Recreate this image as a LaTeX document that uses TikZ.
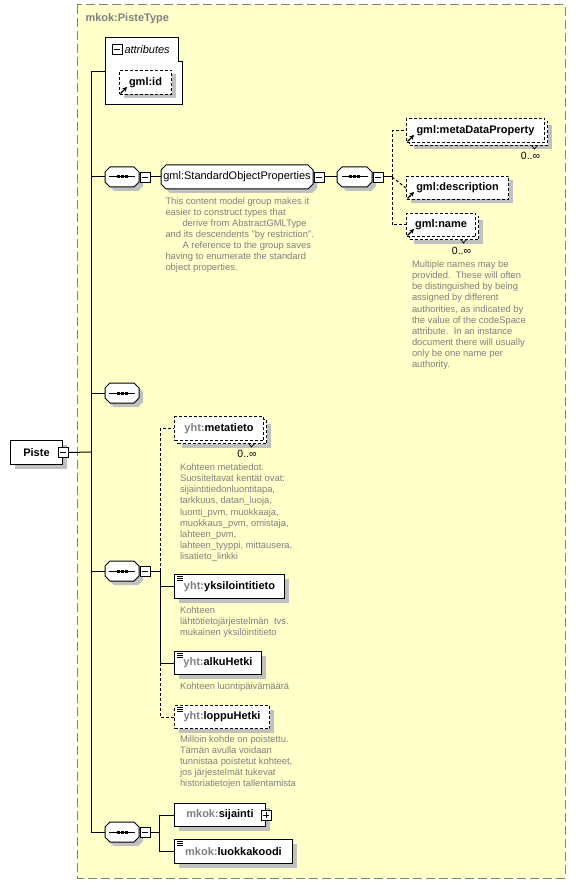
\documentclass[tikz,border=0pt]{standalone}
\usepackage{fontspec}
\setmainfont{Liberation Sans}
\usetikzlibrary{shadows,calc,arrows.meta}
\definecolor{bgy}{RGB}{255,255,202}
\definecolor{framec}{RGB}{128,128,128}
\definecolor{shd}{RGB}{192,192,192}
\definecolor{descc}{RGB}{128,128,128}
\definecolor{pfx}{RGB}{128,128,128}
\newcommand{\px}[1]{\textcolor{pfx}{#1}}
% octagon path: centre x, centre y, half width, half height, cut, offset
\newcommand{\octxy}[6]{(#1-#3+#5+#6,#2-#4+#6) -- (#1+#3-#5+#6,#2-#4+#6) -- (#1+#3+#6,#2-#4+#5+#6) -- (#1+#3+#6,#2+#4-#5+#6) -- (#1+#3-#5+#6,#2+#4+#6) -- (#1-#3+#5+#6,#2+#4+#6) -- (#1-#3+#6,#2+#4-#5+#6) -- (#1-#3+#6,#2-#4+#5+#6) -- cycle}
\begin{document}
\begin{tikzpicture}[x=1pt,y=-1pt,line width=1pt,
  lbl/.style={font=\fontsize{11}{13}\selectfont},
  shadowed/.style={general shadow={fill=shd,shadow xshift=4pt,shadow yshift=-4pt}},
  box/.style={draw,fill=white,rectangle,inner sep=0pt,anchor=north west,lbl},
  elem/.style={box,shadowed},
  opt/.style={dash pattern=on 3pt off 2pt},
  seqbox/.style={rectangle,inner sep=0pt,minimum width=34pt,minimum height=20pt},
  grpbox/.style={rectangle,inner sep=0pt,lbl},
  mbox/.style={draw,fill=white,minimum size=10pt,inner sep=0pt,line width=0.8pt,
    path picture={\draw[line width=0.8pt] ([xshift=2pt]path picture bounding box.west) -- ([xshift=-2pt]path picture bounding box.east);}},
  pbox/.style={mbox,
    path picture={\draw[line width=0.8pt] ([xshift=2pt]path picture bounding box.west) -- ([xshift=-2pt]path picture bounding box.east);
                  \draw[line width=0.8pt] ([yshift=-2pt]path picture bounding box.north) -- ([yshift=2pt]path picture bounding box.south);}},
  dtext/.style={anchor=north west,inner sep=0pt,align=left,text=descc,font=\fontsize{9.4}{11.05}\selectfont},
  occ/.style={inner sep=0pt,font=\fontsize{10.5}{12}\selectfont}
]
\useasboundingbox (0,0) rectangle (576,885);
\fill[white] (0,0) rectangle (576,885);
\draw[fill=bgy,draw=framec,dash pattern=on 9pt off 4pt] (77,5) rectangle (565,878);
\node[anchor=west,inner sep=0pt,text=pfx,font=\fontsize{11}{13}\selectfont\bfseries] (title) at (85,19) {mkok:PisteType};

% octagon outlines (sequences and group), drawn before their nodes
\foreach \cx/\cy/\hw in {122/177/17,122/393/17,122/571/17,122/832/17,354.5/177/17.5}{
  \fill[shd] \octxy{\cx}{\cy}{\hw}{10}{5}{4};
  \draw[fill=white] \octxy{\cx}{\cy}{\hw}{10}{5}{0};
}
\fill[shd] \octxy{237}{177}{76}{12}{5}{4};
\draw[fill=white] \octxy{237}{177}{76}{12}{5}{0};

% attributes box
\node[draw=none,minimum width=77pt,minimum height=67pt,inner sep=0pt,anchor=north west] (attrs) at (105,38) {};
\draw[fill=white] (105,38) -- (178,38) -- (178,62) -- (182,62) -- (182,105) -- (105,105) -- cycle;
\node[mbox] (mattr) at (117,49.5) {};
\node[anchor=west,inner sep=0pt,font=\fontsize{11}{13}\selectfont\itshape] (attrl) at (124,49.5) {attributes};
\node[elem,opt,minimum width=52pt,minimum height=24pt] (gmlid) at (119,70) {\textbf{gml:id}};

% root
\node[elem,minimum width=52pt,minimum height=24pt] (piste) at (10,440) {\textbf{Piste}\hspace{5pt}};
\node[mbox] (mpiste) at (piste.east) {};
\coordinate (bus) at (91,452);

% sequences
\node[seqbox] (seq1) at (122,177) {};
\node[seqbox] (seq2) at (122,393) {};
\node[seqbox] (seq3) at (122,571) {};
\node[seqbox] (seq4) at (122,832) {};
\node[mbox,anchor=west] (m1) at (seq1.east) {};
\node[mbox,anchor=west] (m3) at (seq3.east) {};
\node[mbox,anchor=west] (m4) at (seq4.east) {};

% group
\node[grpbox,minimum width=152pt,minimum height=24pt] (sop) at (237,177) {gml:StandardObjectProperties};
\node[mbox,anchor=west] (msop) at (sop.east) {};
\node[seqbox,minimum width=35pt] (seqR) at (354.5,177) {};
\node[mbox,anchor=west] (mR) at (seqR.east) {};
\coordinate (jR) at (392,177);

% right side elements
\node[elem,opt,minimum width=138pt,minimum height=24pt] (mdpB) at (409,121) {};
\node[box,opt,minimum width=138pt,minimum height=24pt] (mdp) at (406,118) {\textbf{gml:metaDataProperty}};
\node[elem,opt,minimum width=102pt,minimum height=23pt] (gdesc) at (406,176) {\textbf{gml:description}};
\node[elem,opt,minimum width=69pt,minimum height=23pt] (gnameB) at (409,216) {};
\node[box,opt,minimum width=69pt,minimum height=23pt] (gname) at (406,213) {\textbf{gml:name}};
\node[occ] (occmdp) at (530.5,156) {0..∞};
\node[occ] (occname) at (461.5,250.5) {0..∞};

% seq3 children
\node[elem,opt,minimum width=89pt,minimum height=24pt] (metaB) at (177,419) {};
\node[box,opt,minimum width=89pt,minimum height=24pt] (meta) at (174,416) {\textbf{\px{yht:}metatieto}};
\node[occ] (occmeta) at (247,454) {0..∞};
\node[elem,minimum width=110pt,minimum height=24pt] (yks) at (174,574) {\textbf{\px{yht:}yksilointitieto}};
\node[elem,minimum width=87pt,minimum height=23pt] (alku) at (174,651) {\textbf{\px{yht:}alkuHetki}};
\node[elem,opt,minimum width=95pt,minimum height=23pt] (loppu) at (174,705) {\textbf{\px{yht:}loppuHetki}};
\coordinate (j3) at (160,571);

% seq4 children
\node[elem,minimum width=91pt,minimum height=23pt] (sij) at (174,803) {\textbf{\px{mkok:}sijainti}\hspace{4pt}};
\node[pbox] (psij) at (sij.east) {};
\node[elem,minimum width=118pt,minimum height=24pt] (luok) at (174,839) {\textbf{\px{mkok:}luokkakoodi}};
\coordinate (j4) at (159,832);

% sequence symbols
\foreach \s in {seq1,seq2,seq3,seq4,seqR}{
  \draw ([xshift=-13pt]\s.center) -- ([xshift=13pt]\s.center);
  \foreach \dx in {-5.5,-1.5,2.5}
    \fill ([xshift=\dx pt,yshift=1.5pt]\s.center) rectangle +(3,3);
}
% ref arrows
\foreach \n in {gmlid,mdp,gdesc,gname}{
  \draw[line width=1.1pt,-{Stealth[length=4.5pt,width=4.5pt]}] ($(\n.south west)+(1.5,-1.5)$) -- +(6.5,-6.5);
}
% simple type icons
\foreach \n in {yks,alku,loppu,luok}{
  \foreach \k in {2,4,6}
    \draw[line width=0.7pt] ($(\n.north west)+(3,\k)$) -- +(6,0);
}
% stacked notches
\draw[line width=0.7pt] ($(mdpB.south east)+(-16,0)$) -- ++(2.5,3) -- ++(2.5,-3);
\draw[line width=0.7pt] ($(gnameB.south east)+(-18,0)$) -- ++(2.5,3) -- ++(2.5,-3);
\draw[line width=0.7pt] ($(metaB.south east)+(-18,0)$) -- ++(2.5,3) -- ++(2.5,-3);

% connectors
\draw (mpiste.east) -- (bus);
\draw (bus) |- (attrs.west);
\draw (bus) |- (seq1.west);
\draw (bus) |- (seq2.west);
\draw (bus) |- (seq3.west);
\draw (bus) |- (seq4.west);
\draw (m1.east) -- (sop.west);
\draw (msop.east) -- (seqR.west);
\draw (mR.east) -- (jR);
\draw[opt] (jR) |- (mdp.west);
\draw[opt] (jR) -- (gdesc.west);
\draw[opt] (jR) |- (gname.west);
\draw (m3.east) -- (j3);
\draw[opt] (j3) |- (meta.west);
\draw (j3) |- (yks.west);
\draw (j3) |- (alku.west);
\draw[opt] (alku.west -| j3) |- (loppu.west);
\draw (m4.east) -- (j4);
\draw (j4) |- (sij.west);
\draw (j4) |- (luok.west);

% descriptions
\node[dtext] (sopd) at (165,197) {This content model group makes it\\easier to construct types that\\\hspace*{17pt}derive from AbstractGMLType\\and its descendents "by restriction".\\\hspace*{17pt}A reference to the group saves\\having to enumerate the standard\\object properties.};
\node[dtext] (named) at (411.5,260.5) {Multiple names may be\\provided.\ \ These will often\\be distinguished by being\\assigned by different\\authorities, as indicated by\\the value of the codeSpace\\attribute.\ \ In an instance\\document there will usually\\only be one name per\\authority.};
\node[dtext] (metad) at (179.5,463.5) {Kohteen metatiedot.\\Suositeltavat kentät ovat:\\sijaintitiedonluontitapa,\\tarkkuus, datan\_luoja,\\luonti\_pvm, muokkaaja,\\muokkaus\_pvm, omistaja,\\lahteen\_pvm,\\lahteen\_tyyppi, mittausera,\\lisatieto\_linkki};
\node[dtext] (yksd) at (179.5,606.5) {Kohteen\\lähtötietojärjestelmän\ \ tvs.\\mukainen yksilöintitieto};
\node[dtext] (alkud) at (179.5,682) {Kohteen luontipäivämäärä};
\node[dtext] (loppud) at (179.5,735) {Milloin kohde on poistettu.\\Tämän avulla voidaan\\tunnistaa poistetut kohteet,\\jos järjestelmät tukevat\\historiatietojen tallentamista};
\end{tikzpicture}
\end{document}
